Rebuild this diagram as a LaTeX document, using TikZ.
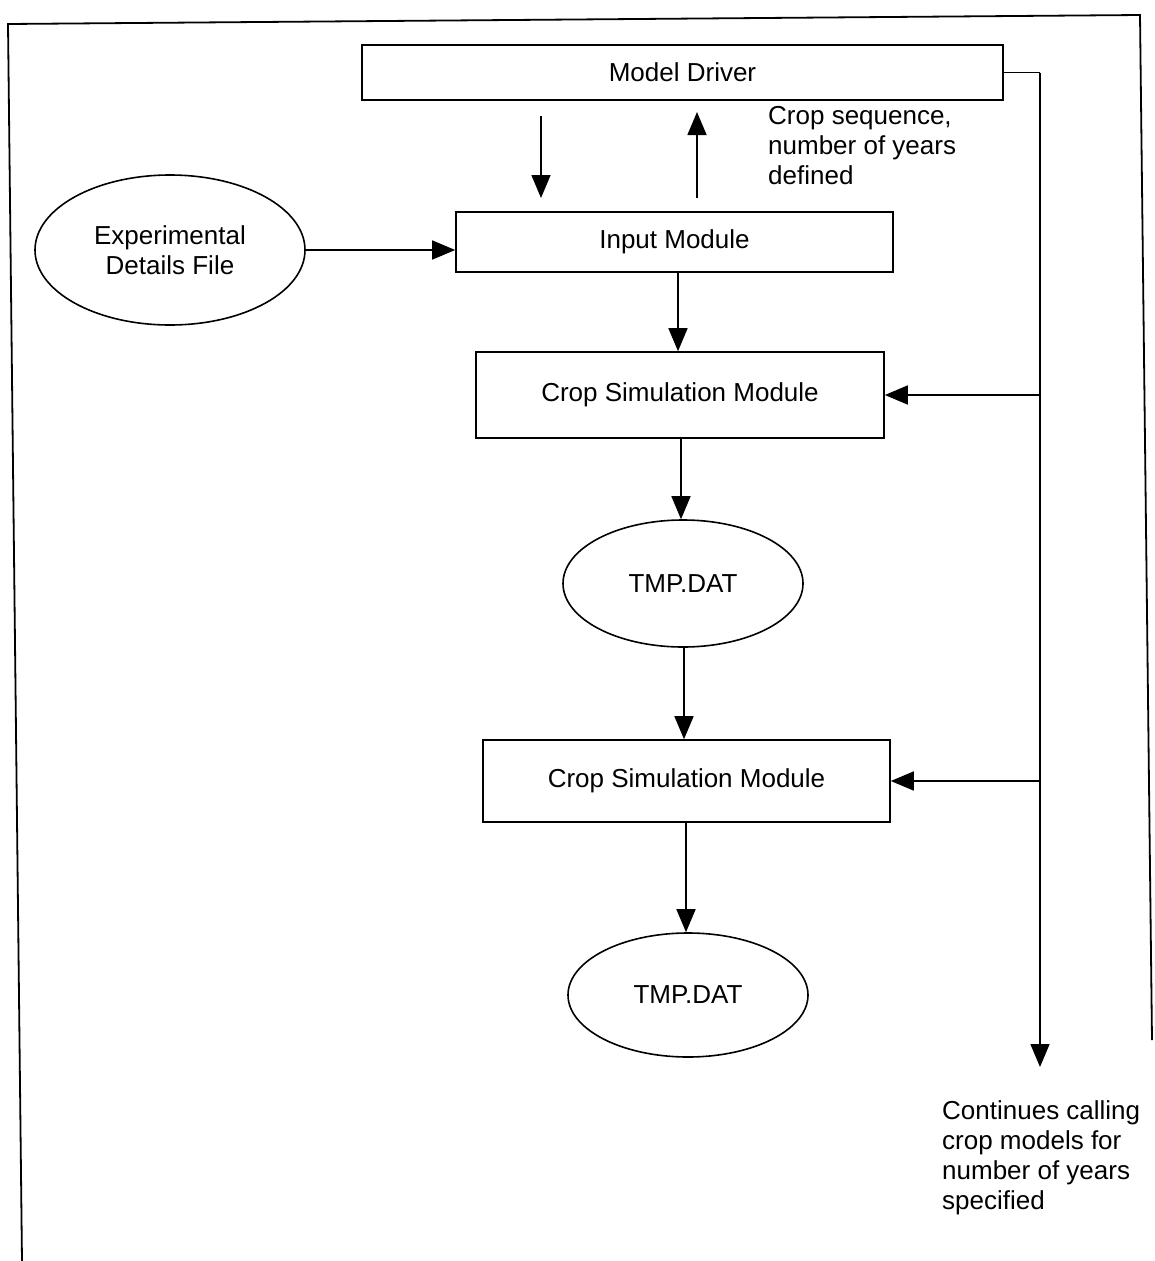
\documentclass[tikz,border=0pt]{standalone}
\usepackage{fontspec}
\setmainfont{Liberation Sans}
\usetikzlibrary{shapes.geometric,arrows.meta}
\begin{document}
\begin{tikzpicture}[x=1pt,y=-1pt,
  every node/.style={font=\fontsize{26}{30}\selectfont},
  modbox/.style={draw,line width=1.6pt,rectangle,inner sep=0pt},
  filebox/.style={draw,line width=1.6pt,ellipse,inner sep=0pt},
  flow/.style={line width=1.6pt,-{Triangle[length=23pt,width=19pt]}},
  note/.style={align=left,anchor=north west,inner sep=0pt}]
\useasboundingbox (0,0) rectangle (1154,1261);
% outer frame (open at the bottom)
\draw[line width=1.8pt] (22,1261) -- (8,24) -- (1140,15) -- (1152,1040);

% modules
\node[modbox,minimum width=641pt,minimum height=55pt] (md) at (682.5,72.5) {Model Driver};
\node[modbox,minimum width=437pt,minimum height=60pt] (im) at (674.5,242) {Input Module};
\node[modbox,minimum width=408pt,minimum height=86pt] (cs1) at (680,395) {Crop Simulation Module};
\node[modbox,minimum width=407pt,minimum height=82pt] (cs2) at (686.5,781) {Crop Simulation Module};

% files
\node[filebox,minimum width=270pt,minimum height=150pt,align=center] (exp) at (170,250) {Experimental\\Details File};
\node[filebox,minimum width=240pt,minimum height=127pt] (tmp1) at (683,583.5) {TMP.DAT};
\node[filebox,minimum width=240pt,minimum height=124pt] (tmp2) at (688,995) {TMP.DAT};

% notes
\node[note] (seq) at (768,106) {Crop sequence,\\number of years\\defined};
\node[note] (cont) at (942,1100) {Continues calling\\crop models for\\number of years\\specified};

% free ends of the driver/input exchange and of the driver bus
\coordinate (dtop) at (541,116);
\coordinate (dbot) at (541,198);
\coordinate (ubot) at (697,198);
\coordinate (utop) at (697,112);
\coordinate (bus0) at (1040,72.5);
\coordinate (bus1) at (1040,395);
\coordinate (bus2) at (1040,781);
\coordinate (busend) at (1040,1067);

% connectors
\draw[flow] (dtop) -- (dbot);
\draw[flow] (ubot) -- (utop);
\draw[flow] (exp.east) -- (im.west |- exp.east);
\draw[flow] (im.south -| 678,0) -- (cs1.north -| 678,0);
\draw[flow] (cs1.south -| 681,0) -- (tmp1.north -| 681,0);
\draw[flow] (tmp1.south -| 684,0) -- (cs2.north -| 684,0);
\draw[flow] (cs2.south -| 686,0) -- (tmp2.north -| 686,0);
\draw[line width=1.6pt] (md.east) -- (bus0);
\draw[flow] (bus0) -- (busend);
\draw[flow] (bus1) -- (cs1.east);
\draw[flow] (bus2) -- (cs2.east);
\end{tikzpicture}
\end{document}
